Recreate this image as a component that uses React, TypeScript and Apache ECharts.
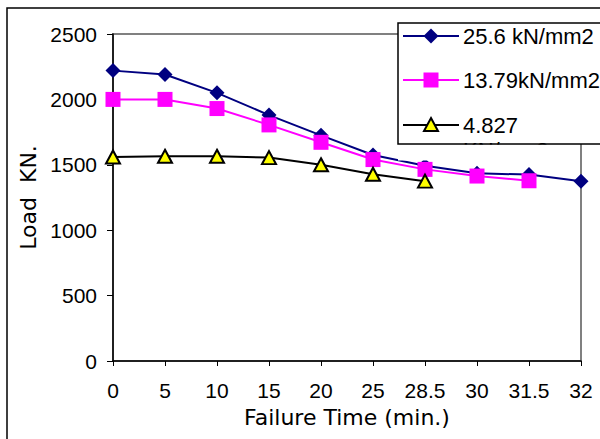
import React, { useEffect, useRef } from "react";
import * as echarts from "echarts";

const categories = ["0", "5", "10", "15", "20", "25", "28.5", "30", "31.5", "32"];
const seriesNames = ["25.6 kN/mm2", "13.79kN/mm2", "4.827 KN/mm2"];
const load256 = [2220, 2190, 2050, 1880, 1725, 1575, 1492, 1435, 1425, 1375];
const load1379 = [2000, 2000, 1930, 1805, 1672, 1540, 1465, 1414, 1378, "-"];
const load4827 = [1560, 1565, 1565, 1555, 1500, 1428, 1375, "-", "-", "-"];
const yTicks = { min: 0, max: 2500, interval: 500 };

const FONT = "Liberation Sans, Arial, sans-serif";
const TITLE_FONT = "DejaVu Sans, Liberation Sans, sans-serif";

export default function App() {
  const ref = useRef<HTMLDivElement>(null);
  useEffect(() => {
    if (!ref.current) return;
    const chart = echarts.init(ref.current, null, { renderer: "svg" });
    const legendRows = [
      { y: 36, color: "#000080", symbol: "diamond" },
      { y: 80, color: "#FF00FF", symbol: "square" },
      { y: 125, color: "#000000", symbol: "triangle" },
    ];
    const legendGraphics: any[] = [
      {
        type: "rect",
        shape: { x: 398, y: 23, width: 230, height: 121 },
        style: { fill: "#ffffff", stroke: "none" },
        z: 100,
      },
    ];
    legendRows.forEach((r, i) => {
      legendGraphics.push({
        type: "line",
        shape: { x1: 403, y1: r.y, x2: 459, y2: r.y },
        style: { stroke: r.color, lineWidth: 2 },
        z: 101,
      });
      if (r.symbol === "diamond") {
        legendGraphics.push({
          type: "polygon",
          shape: { points: [[431, r.y - 7.5], [438.5, r.y], [431, r.y + 7.5], [423.5, r.y]] },
          style: { fill: r.color },
          z: 102,
        });
      } else if (r.symbol === "square") {
        legendGraphics.push({
          type: "rect",
          shape: { x: 423.5, y: r.y - 7.5, width: 15, height: 15 },
          style: { fill: r.color },
          z: 102,
        });
      } else {
        legendGraphics.push({
          type: "polygon",
          shape: { points: [[431, r.y - 7], [438, r.y + 6], [424, r.y + 6]] },
          style: { fill: "#FFFF00", stroke: "#000000", lineWidth: 2 },
          z: 102,
        });
      }
      legendGraphics.push({
        type: "text",
        x: 463,
        y: r.y,
        style: {
          text: i === 2 ? "4.827" : seriesNames[i],
          font: `22px ${FONT}`,
          fill: "#000",
          verticalAlign: "middle",
        },
        z: 102,
      });
    });
    legendGraphics.push({
      type: "text",
      x: 463,
      y: 150,
      style: { text: "KN/mm2", font: `22px ${FONT}`, fill: "#000", verticalAlign: "middle" },
      z: 101,
    });
    legendGraphics.push({
      type: "rect",
      shape: { x: 398, y: 144.5, width: 230, height: 16 },
      style: { fill: "#ffffff" },
      z: 103,
    });
    legendGraphics.push({
      type: "line",
      shape: { x1: 581, y1: 144, x2: 581, y2: 162 },
      style: { stroke: "#808080", lineWidth: 2 },
      z: 104,
    });
    legendGraphics.push({
      type: "rect",
      shape: { x: 398, y: 23, width: 230, height: 121 },
      style: { fill: "none", stroke: "#000000", lineWidth: 1.5 },
      z: 105,
    });

    chart.setOption({
      animation: false,
      backgroundColor: "#ffffff",
      textStyle: { fontFamily: FONT },
      grid: {
        left: 113,
        right: 19,
        top: 34,
        bottom: 78,
        show: true,
        borderColor: "#808080",
        borderWidth: 2,
        backgroundColor: "transparent",
      },
      xAxis: {
        type: "category",
        data: categories,
        boundaryGap: false,
        name: "Failure Time (min.)",
        nameLocation: "middle",
        nameGap: 45,
        nameTextStyle: { fontSize: 22, color: "#000", fontFamily: TITLE_FONT },
        axisLine: { lineStyle: { color: "#000", width: 1.5 } },
        axisTick: { show: true, length: 5, inside: false, interval: 0, lineStyle: { color: "#000" } },
        axisLabel: {
          fontSize: 21,
          color: "#000",
          margin: 19,
          interval: 0,
          hideOverlap: false,
          fontFamily: FONT,
        },
        splitLine: { show: false },
      },
      yAxis: {
        type: "value",
        min: yTicks.min,
        max: yTicks.max,
        interval: yTicks.interval,
        name: "Load  KN.",
        nameLocation: "middle",
        nameGap: 73,
        nameTextStyle: { fontSize: 22, color: "#000", fontFamily: TITLE_FONT },
        axisLine: { show: true, lineStyle: { color: "#000", width: 1.5 } },
        axisTick: { show: true, length: 6, lineStyle: { color: "#000" } },
        axisLabel: {
          fontSize: 21,
          color: "#000",
          margin: 16,
          fontFamily: FONT,
          formatter: (v: number) => String(v),
        },
        splitLine: { show: false },
      },
      graphic: [
        {
          type: "rect",
          shape: { x: 7, y: 8, width: 700, height: 500 },
          style: { fill: "none", stroke: "#000", lineWidth: 1.5 },
          z: 99,
        },
        ...legendGraphics,
      ],
      series: [
        {
          name: seriesNames[0],
          type: "line",
          data: load256,
          symbol: "diamond",
          symbolSize: 15,
          lineStyle: { color: "#000080", width: 2 },
          itemStyle: { color: "#000080" },
          z: 3,
        },
        {
          name: seriesNames[1],
          type: "line",
          data: load1379,
          symbol: "rect",
          symbolSize: 15,
          lineStyle: { color: "#FF00FF", width: 2 },
          itemStyle: { color: "#FF00FF" },
          z: 4,
        },
        {
          name: seriesNames[2],
          type: "line",
          data: load4827,
          symbol: "triangle",
          symbolSize: [14, 13],
          lineStyle: { color: "#000000", width: 2 },
          itemStyle: { color: "#FFFF00", borderColor: "#000", borderWidth: 2 },
          z: 5,
        },
      ],
    });
    return () => chart.dispose();
  }, []);
  return (
    <div
      ref={ref}
      style={{ position: "absolute", left: 0, top: 0, width: 600, height: 439, background: "#fff" }}
    />
  );
}
